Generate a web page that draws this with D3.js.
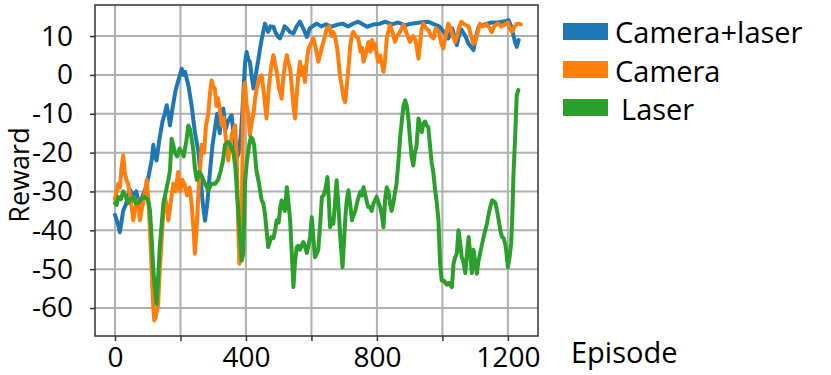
<!DOCTYPE html>
<html>
<head>
<meta charset="utf-8">
<script src="https://d3js.org/d3.v7.min.js"></script>
<style>
  body { margin: 0; background: #fff; }
  text { font-family: "Open Sans", sans-serif; fill: #000; }
</style>
</head>
<body>
<svg width="831" height="375"></svg>
<script>
  // Episodes and rewards
  const camLaserEp = [0, 8, 15, 25, 35, 45, 55, 65, 75, 85, 97, 105, 112, 117, 122, 127, 135, 145, 152, 158, 163, 168, 175, 185, 195, 204, 209, 214, 219, 224, 234, 244, 255, 262, 268, 275, 282, 290, 298, 305, 312, 320, 326, 331, 338, 345, 356, 362, 370, 378, 385, 392, 397, 402, 407, 412, 417, 423, 428, 433, 438, 443, 450, 458, 463, 468, 475, 484, 490, 497, 504, 512, 518, 525, 535, 545, 555, 565, 575, 586, 595, 605, 616, 630, 645, 660, 678, 695, 712, 728, 743, 758, 770, 790, 810, 825, 845, 865, 885, 906, 930, 957, 975, 990, 1005, 1018, 1030, 1044, 1050, 1058, 1070, 1080, 1095, 1103, 1111, 1130, 1150, 1170, 1190, 1202, 1210, 1217, 1222, 1227, 1233];
  const camLaser = [-36, -38, -40.5, -35, -33, -29.5, -31, -30, -34, -31, -28.4, -25, -22, -18, -21, -22, -17, -12, -10, -7.8, -10, -13, -9, -4, -1, 1.6, 0, 0.8, -1, -2.6, -7.8, -14.7, -19.8, -27, -33, -37.5, -33, -25, -18, -14, -10, -15, -10, -8.7, -14, -12, -10.4, -15, -22, -20, -15, -5.2, 3, 5.9, 4, 3.4, 0, -3.5, -1, 1.6, 4, 6.8, 10, 13.2, 12, 11.1, 12.5, 12.4, 11, 10, 9.4, 11, 12.5, 12, 11, 10.7, 12.5, 13.7, 12, 9.8, 12, 12.6, 13.2, 12.5, 13, 12.4, 12.9, 13.2, 12.5, 13.2, 13.7, 13, 12.4, 13, 13.2, 13.7, 13, 13.5, 12.8, 13.2, 13.5, 13.7, 13, 12.5, 11, 9.4, 12, 7.7, 10, 11.7, 10, 8, 6.4, 10, 12.5, 13, 13.5, 13.5, 13.8, 14.1, 12.5, 10.2, 8.5, 7.2, 9];

  const cameraEp = [0, 5, 10, 15, 20, 25, 30, 35, 40, 48, 56, 63, 71, 76, 81, 86, 92, 97, 102, 107, 112, 117, 120, 125, 132, 137, 143, 148, 153, 158, 163, 170, 178, 185, 193, 199, 205, 212, 220, 228, 234, 240, 244, 249, 255, 260, 265, 272, 278, 285, 290, 295, 300, 305, 310, 315, 321, 326, 332, 338, 346, 352, 358, 367, 372, 377, 380, 384, 387, 389, 392, 397, 402, 407, 412, 418, 423, 428, 433, 440, 448, 455, 463, 470, 477, 484, 489, 494, 500, 509, 515, 520, 525, 530, 535, 540, 545, 550, 555, 560, 565, 570, 575, 580, 585, 591, 598, 606, 613, 621, 626, 631, 638, 647, 655, 661, 667, 672, 680, 687, 693, 698, 703, 708, 713, 718, 723, 728, 735, 743, 750, 755, 759, 765, 770, 774, 780, 785, 789, 795, 800, 804, 810, 815, 820, 825, 830, 835, 840, 848, 855, 862, 870, 881, 890, 901, 910, 918, 927, 932, 937, 942, 950, 958, 965, 973, 980, 990, 997, 1003, 1010, 1018, 1025, 1032, 1039, 1045, 1050, 1058, 1068, 1080, 1088, 1095, 1100, 1108, 1115, 1125, 1135, 1145, 1151, 1158, 1165, 1171, 1180, 1190, 1200, 1206, 1212, 1218, 1225, 1232, 1240];
  const camera = [-32, -30, -28, -29, -24, -20.7, -25, -27, -28, -32, -37.4, -34, -32.3, -37.4, -35, -33, -30, -27, -32, -40, -50.3, -60, -63.2, -62, -59, -50, -41.7, -35, -31.4, -34, -37.4, -33, -28, -30, -25, -30, -27, -28, -31, -29, -33, -40, -46, -40, -30, -24, -18, -20, -13, -10, -5, -1.4, -3, -3.5, -8, -6, -9.5, -13, -11, -16, -22, -18, -15, -13, -22, -40, -48.6, -47, -35, -25, -5.2, -2, -7.8, -10, -15.5, -12, -10, -6, -3.5, -1, -0.1, -5, -11.2, -3, 2, 5.1, 3, 0.8, -3, -6.1, 0, 3, 5.1, 3, 1.6, -3, -8, -11.2, -5, 0, 3.4, 0, 2, -1.8, 3, 6.8, 8, 9.4, 7, 3.4, 5, 6.8, 9, 12, 12.5, 10, 11, 10, 6, -0.1, -3, -6, -7, -3, 1.6, 7, 10, 11.1, 10, 9.4, 6, 7, 3.4, 5, 7, 8.5, 6, 9, 6.8, 8, 5, 3.4, 5, 3, 0.8, 4, 9.4, 11.1, 12.8, 11, 8.5, 10, 11, 12.9, 11, 8.5, 10, 9, 4.2, 8, 12, 13.2, 12, 11.5, 10, 9.4, 12, 11, 8, 6.8, 10, 13.2, 12, 10, 8.5, 10, 12, 13.7, 13, 12.5, 10, 8, 8.5, 11, 13.2, 12.5, 13, 12, 11, 12.5, 13, 13.2, 12.5, 13, 13.5, 12, 11.1, 12, 13, 13.2, 13];

  const laserEp = [0, 5, 10, 18, 25, 32, 40, 48, 56, 63, 71, 80, 92, 100, 107, 112, 117, 122, 127, 132, 137, 143, 148, 153, 158, 163, 168, 173, 178, 183, 190, 197, 204, 210, 218, 224, 229, 234, 239, 244, 250, 257, 265, 275, 285, 295, 306, 315, 322, 330, 336, 341, 346, 352, 357, 362, 368, 374, 382, 387, 392, 397, 403, 410, 415, 420, 425, 432, 440, 448, 453, 458, 463, 468, 473, 478, 484, 489, 494, 500, 505, 509, 514, 519, 525, 530, 535, 540, 545, 550, 555, 560, 565, 570, 575, 580, 586, 591, 596, 601, 606, 611, 616, 621, 627, 632, 637, 642, 649, 653, 657, 662, 667, 672, 677, 682, 688, 695, 700, 705, 708, 713, 718, 724, 729, 734, 739, 744, 750, 755, 759, 765, 770, 774, 779, 784, 790, 799, 805, 810, 815, 820, 825, 830, 835, 840, 845, 850, 855, 860, 866, 871, 876, 881, 886, 891, 896, 901, 906, 911, 916, 921, 927, 932, 937, 942, 947, 952, 957, 962, 967, 972, 978, 983, 988, 993, 998, 1005, 1013, 1020, 1029, 1034, 1039, 1044, 1049, 1054, 1059, 1064, 1070, 1075, 1080, 1085, 1090, 1095, 1100, 1105, 1110, 1115, 1120, 1126, 1131, 1136, 1141, 1146, 1152, 1157, 1162, 1167, 1172, 1177, 1182, 1187, 1192, 1196, 1200, 1205, 1210, 1214, 1217, 1222, 1227, 1232];
  const laser = [-33, -33.5, -31.4, -32, -30, -31, -33, -32, -31.4, -33, -33, -32, -31.4, -32, -34.9, -42, -50, -55, -59, -52, -44, -38, -33, -31, -29, -27, -24.6, -16.4, -18, -20, -21, -19, -19.8, -21, -17, -13, -14, -16.4, -19, -24, -27, -25, -26, -28, -29.7, -28, -28, -27, -25, -22, -18, -17.5, -17.3, -18, -19, -20, -24, -32, -41.7, -47.8, -46, -28, -22, -18, -16, -16.5, -18, -24.6, -28, -32.3, -33, -35.7, -40, -44.3, -43, -41.7, -42, -40, -37.4, -38, -34, -32.3, -34, -35, -28.9, -33, -37.4, -46, -54.6, -48, -44.3, -44, -45, -44, -43, -44, -45.8, -44, -41.7, -36.6, -42, -46.9, -46, -45, -38, -31.4, -31, -29.7, -26.3, -32, -39.2, -37, -38.3, -33, -27.1, -33, -41.7, -49.5, -42, -35, -32.3, -29.7, -33, -37.4, -36, -35, -33, -31.4, -30, -31, -28.9, -31, -33, -34, -34, -35, -33, -31.4, -33, -34, -36, -39.2, -32, -28.9, -30, -33, -35, -33, -30.4, -28, -22, -16, -12, -8, -6.5, -7.8, -11, -16.4, -21, -23.3, -20, -18.4, -11.2, -13, -14.7, -12.5, -12, -13, -13.5, -18, -22.4, -25, -29.7, -33, -37.4, -48.6, -52.9, -53, -54, -53.5, -54.6, -48.6, -47, -46, -40, -43, -46.9, -48, -51, -46, -41.7, -46, -51, -45, -48, -51.2, -48, -46, -44, -41.7, -40, -38.3, -36, -34, -32.3, -32.5, -33, -35, -37.4, -40, -41.7, -42, -43.5, -46, -49.5, -47, -43.5, -35, -25.8, -16.4, -5.2, -3.9];

  const seriesNames = ['Camera+laser', 'Camera', 'Laser'];
  const seriesColors = ['#1f77b4', '#ff7f0e', '#2ca02c'];
  const xTicks = [0, 200, 400, 600, 800, 1000, 1200];
  const xTickLabels = ['0', '', '400', '', '800', '', '1200'];
  const yTicks = [-60, -50, -40, -30, -20, -10, 0, 10];

  const svg = d3.select('svg');
  const plotLeft = 95, plotRight = 538, plotTop = 5, plotBottom = 336;

  const x = d3.scaleLinear().domain([-61, 1292]).range([plotLeft, plotRight]);
  const y = d3.scaleLinear().domain([-67.2, 18]).range([plotBottom, plotTop]);

  // Grid
  svg.append('g').selectAll('line').data(xTicks).join('line')
    .attr('x1', d => x(d)).attr('x2', d => x(d))
    .attr('y1', plotTop).attr('y2', plotBottom)
    .attr('stroke', '#b0b0b0').attr('stroke-width', 2);
  svg.append('g').selectAll('line').data(yTicks).join('line')
    .attr('x1', plotLeft).attr('x2', plotRight)
    .attr('y1', d => y(d)).attr('y2', d => y(d))
    .attr('stroke', '#b0b0b0').attr('stroke-width', 2);

  // Lines
  const data = [
    camLaserEp.map((e, i) => [e, camLaser[i]]),
    cameraEp.map((e, i) => [e, camera[i]]),
    laserEp.map((e, i) => [e, laser[i]])
  ];
  const line = d3.line().x(d => x(d[0])).y(d => y(d[1]));
  data.forEach((d, i) => {
    svg.append('path')
      .attr('d', line(d))
      .attr('fill', 'none')
      .attr('stroke', seriesColors[i])
      .attr('stroke-width', 4)
      .attr('stroke-linejoin', 'round')
      .attr('stroke-linecap', 'round');
  });

  // Frame
  svg.append('rect')
    .attr('x', plotLeft).attr('y', plotTop)
    .attr('width', plotRight - plotLeft).attr('height', plotBottom - plotTop)
    .attr('fill', 'none').attr('stroke', '#333').attr('stroke-width', 1.5);

  // Axes
  const xAxis = d3.axisBottom(x).tickValues(xTicks)
    .tickFormat((d, i) => xTickLabels[i]).tickSize(5);
  const gx = svg.append('g').attr('transform', `translate(0,${plotBottom})`).call(xAxis);
  gx.select('.domain').remove();
  gx.selectAll('line').attr('stroke', '#333').attr('stroke-width', 1.5);
  gx.selectAll('text').style('font-size', '28px').attr('y', 31).attr('dy', null);

  const yAxis = d3.axisLeft(y).tickValues(yTicks)
    .tickFormat(d => String(d)).tickSize(5).tickPadding(17);
  const gy = svg.append('g').attr('transform', `translate(${plotLeft},0)`).call(yAxis);
  gy.select('.domain').remove();
  gy.selectAll('line').attr('stroke', '#333').attr('stroke-width', 1.5);
  gy.selectAll('text').style('font-size', '28px');

  // Axis titles
  svg.append('text')
    .attr('transform', 'translate(29,175) rotate(-90)')
    .attr('text-anchor', 'middle')
    .style('font-size', '27px')
    .text('Reward');
  svg.append('text')
    .attr('x', 571).attr('y', 363)
    .style('font-size', '29px')
    .text('Episode');

  // Legend
  const legendY = [23, 61, 99];
  const legendTextY = [43, 82, 120];
  seriesNames.forEach((name, i) => {
    svg.append('rect')
      .attr('x', 563).attr('y', legendY[i])
      .attr('width', 45).attr('height', 17)
      .attr('fill', seriesColors[i]);
    svg.append('text')
      .attr('x', i === 2 ? 621 : 615).attr('y', legendTextY[i])
      .style('font-size', '29px')
      .text(name);
  });
</script>
</body>
</html>
